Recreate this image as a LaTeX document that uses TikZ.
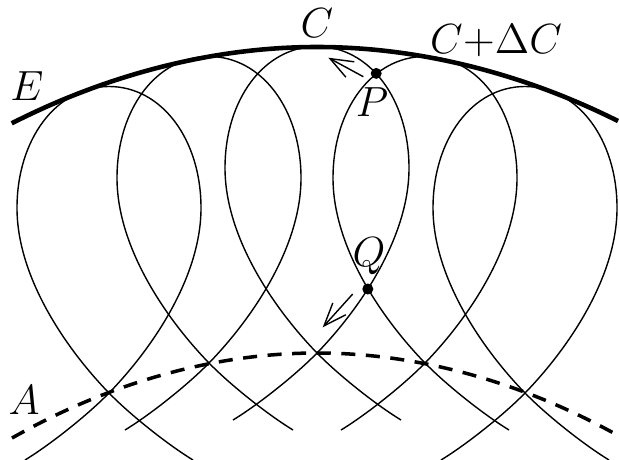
\documentclass[tikz,border=0pt]{standalone}
\usetikzlibrary{arrows.meta}
\tikzset{
    lbl/.style={inner sep=0pt, font=\fontsize{11.5}{13}\selectfont},
    dot/.style={circle, fill, inner sep=0pt, minimum size=0.11cm},
}
\begin{document}
\begin{tikzpicture}[scale=1.0, >={Straight Barb[length=6.5pt,width=5pt]}]
    \useasboundingbox (0,0) rectangle (6.19,4.59);
    \clip (0,0) rectangle (6.19,4.59);
    % one loop per source point, same shape shifted
    \foreach \x/\y in {1.09/0.66, 2.09/0.96, 3.17/1.06, 4.25/0.96, 5.25/0.66} {
        \begin{scope}[shift={(\x,\y)}]
            \draw (-0.84,-0.67) .. controls (-0.584,-0.514) and (-0.21,-0.216) .. (0,0)
                .. controls (0.42,0.432) and (0.92,1.15) .. (0.92,1.85)
                .. controls (0.92,2.54) and (0.524,3.065) .. (0,3.065)
                .. controls (-0.524,3.065) and (-0.92,2.54) .. (-0.92,1.85)
                .. controls (-0.92,1.15) and (-0.42,0.432) .. (0,0)
                .. controls (0.21,-0.216) and (0.584,-0.514) .. (0.84,-0.67);
        \end{scope}
    }
    % envelope E and the dashed curve A
    \draw[line width=1.3pt] (0.117,3.357) parabola bend (3.17,4.12) (6.18,3.38);
    \draw[line width=1pt, dash pattern=on 4pt off 3pt] (0.12,0.21) parabola bend (3.17,1.06) (6.19,0.23);
    % points and arrows
    \node[dot] (P) at (3.762,3.856) {};
    \node[dot] (Q) at (3.678,1.70) {};
    \coordinate (Pfrom) at (3.633,3.823);
    \coordinate (Pto) at (3.283,4.013);
    \coordinate (Qfrom) at (3.527,1.65);
    \coordinate (Qto) at (3.227,1.317);
    \draw[->] (Pfrom) -- (Pto);
    \draw[->] (Qfrom) -- (Qto);
    % labels
    \node[lbl] (labC) at (3.17,4.36) {$C$};
    \node[lbl] (labCdC) at (4.96,4.18) {$C{+}\Delta C$};
    \node[lbl] (labE) at (0.27,3.73) {$E$};
    \node[lbl] (labP) at (3.72,3.57) {$P$};
    \node[lbl] (labQ) at (3.69,2.025) {$Q$};
    \node[lbl] (labA) at (0.24,0.59) {$A$};
\end{tikzpicture}
\end{document}
